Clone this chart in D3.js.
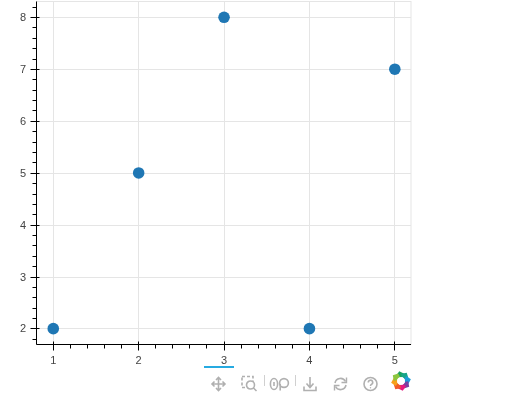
<!DOCTYPE html>
<html>
<head>
<meta charset="utf-8">
<script src="https://cdn.jsdelivr.net/npm/d3@7"></script>
<style>
  html, body { margin: 0; padding: 0; background: #fff; }
  svg { will-change: transform; }
  text { font-family: "Liberation Sans", Arial, sans-serif; font-size: 11px; fill: #444; }
</style>
</head>
<body>
<div id="chart"></div>
<script>
var xValues = [1, 2, 3, 4, 5];
var yValues = [2, 5, 8, 2, 7];
var xTicks = [1, 2, 3, 4, 5];
var yTicks = [2, 3, 4, 5, 6, 7, 8];
var xDomain = [0.807, 5.193];
var yDomain = [1.70, 8.31];
var logoColors = ["#1aa260", "#17a589", "#1b9cd8", "#7b3fa0", "#e6197f", "#f15a29", "#f7a11a", "#8cc63f"];

var width = 511, height = 401,
    left = 36.5, right = 411, top_ = 1.5, bottom = 344.5;

var svg = d3.select("#chart").append("svg")
    .attr("width", width)
    .attr("height", height)
    .style("display", "block");

var x = d3.scaleLinear().domain(xDomain).range([left + 0.3, right + 0.3]);
var y = d3.scaleLinear().domain(yDomain).range([bottom, top_]);

// snap to the pixel grid so 1px lines stay crisp
function snapX(d) { return Math.floor(x(d)) + 0.5; }
function snapY(d) { return Math.floor(y(d)) + 0.5; }

// minor ticks, 5 to an interval, only where they fall inside the range
function minorTicks(scale, step) {
    var d = scale.domain(), out = [];
    var start = Math.ceil(d3.min(d) / step);
    var stop = Math.floor(d3.max(d) / step);
    for (var i = start; i <= stop; i++) {
        if (i % 5 !== 0) out.push(i * step);
    }
    return out;
}

// border
svg.append("rect")
    .attr("x", left).attr("y", top_)
    .attr("width", right - left).attr("height", bottom - top_)
    .attr("fill", "none").attr("stroke", "#e5e5e5");

// grid
svg.append("g").selectAll("line").data(xTicks).enter().append("line")
    .attr("x1", snapX).attr("x2", snapX)
    .attr("y1", top_).attr("y2", bottom)
    .attr("stroke", "#e5e5e5");
svg.append("g").selectAll("line").data(yTicks).enter().append("line")
    .attr("y1", snapY).attr("y2", snapY)
    .attr("x1", left).attr("x2", right)
    .attr("stroke", "#e5e5e5");

// axes
var xAxis = svg.append("g").attr("stroke", "#000");
xAxis.append("line").attr("x1", left).attr("x2", right).attr("y1", bottom).attr("y2", bottom);
xAxis.selectAll(".major").data(xTicks).enter().append("line").attr("class", "major")
    .attr("x1", snapX).attr("x2", snapX)
    .attr("y1", bottom - 3).attr("y2", bottom + 6);
xAxis.selectAll(".minor").data(minorTicks(x, 0.2)).enter().append("line").attr("class", "minor")
    .attr("x1", snapX).attr("x2", snapX)
    .attr("y1", bottom).attr("y2", bottom + 4);

var yAxis = svg.append("g").attr("stroke", "#000");
yAxis.append("line").attr("x1", left).attr("x2", left).attr("y1", top_).attr("y2", bottom);
yAxis.selectAll(".major").data(yTicks).enter().append("line").attr("class", "major")
    .attr("y1", snapY).attr("y2", snapY)
    .attr("x1", left - 6).attr("x2", left + 3);
yAxis.selectAll(".minor").data(minorTicks(y, 0.2)).enter().append("line").attr("class", "minor")
    .attr("y1", snapY).attr("y2", snapY)
    .attr("x1", left - 4).attr("x2", left);

svg.append("g").selectAll("text").data(xTicks).enter().append("text")
    .attr("x", function(d){ return x(d); })
    .attr("y", 364)
    .attr("text-anchor", "middle")
    .text(function(d){ return d; });
svg.append("g").selectAll("text").data(yTicks).enter().append("text")
    .attr("x", 26)
    .attr("y", function(d){ return y(d) + 3.5; })
    .attr("text-anchor", "end")
    .text(function(d){ return d; });

// points
svg.append("g").selectAll("circle").data(xValues).enter().append("circle")
    .attr("cx", function(d){ return x(d); })
    .attr("cy", function(d, i){ return y(yValues[i]) - 0.3; })
    .attr("r", 5.8)
    .attr("fill", "#1f77b4");

// toolbar
var tb = svg.append("g").attr("fill", "none").attr("stroke", "#b0b0b0").attr("stroke-width", 1.6);
tb.append("rect").attr("x", 204).attr("y", 366).attr("width", 30).attr("height", 2)
    .attr("fill", "#26aae1").attr("stroke", "none");

// pan
var pan = tb.append("g").attr("transform", "translate(218.5,384)");
pan.append("path").attr("d", "M-6,0H6M0,-6V6M-2.5,-4L0,-6.5L2.5,-4M-2.5,4L0,6.5L2.5,4M-4,-2.5L-6.5,0L-4,2.5M4,-2.5L6.5,0L4,2.5");

// box zoom
var box = tb.append("g").attr("transform", "translate(247.5,382)");
box.append("rect").attr("x", -5.5).attr("y", -5.5).attr("width", 11).attr("height", 11).attr("stroke-dasharray", "3 2");
box.append("circle").attr("cx", 3).attr("cy", 3).attr("r", 4).attr("fill", "#fff");
box.append("path").attr("d", "M6,6L9,9");

// wheel zoom
var wheel = tb.append("g").attr("transform", "translate(279,384)");
wheel.append("ellipse").attr("cx", -5).attr("cy", 0).attr("rx", 3.6).attr("ry", 5.5);
wheel.append("path").attr("d", "M-5,-2V2");
wheel.append("circle").attr("cx", 5).attr("cy", -1).attr("r", 4.4);
wheel.append("path").attr("d", "M1.2,0V6.5");

// separators
tb.append("path").attr("stroke", "#d0d0d0").attr("stroke-width", 1).attr("d", "M264.5,375V386M295.5,375V386");

// save
var save = tb.append("g").attr("transform", "translate(310,384)");
save.append("path").attr("d", "M0,-7V3M-3.5,-0.5L0,3.5L3.5,-0.5M-6,2.5V6.5H6V2.5");

// reset
var reset = tb.append("g").attr("transform", "translate(340.5,384)");
reset.append("path").attr("d", "M-5.5,-1A5.6,5.6 0 0 1 5,-2.5M5.5,1A5.6,5.6 0 0 1 -5,2.5");
reset.append("path").attr("d", "M6,-6.5V-1.5H1M-6,6.5V1.5H-1").attr("stroke-width", 1.4);

// help
var help = tb.append("g").attr("transform", "translate(370.5,384)");
help.append("circle").attr("r", 6.5);
help.append("path").attr("d", "M-2.2,-1.6A2.2,2.2 0 1 1 0.8,0.4C0,0.8 0,1.2 0,2");
help.append("circle").attr("cy", 3.8).attr("r", 0.7).attr("fill", "#b0b0b0").attr("stroke", "none");

// logo
var logo = svg.append("g").attr("transform", "translate(401,381)");
logo.selectAll("path").data(logoColors).enter().append("path")
    .attr("transform", function(d, i){ return "rotate(" + (i * 45 - 10) + ")"; })
    .attr("d", "M-4,-6L0,-10L4.5,-6.5L3,-3.5L-2,-4Z")
    .attr("fill", function(d){ return d; });
logo.append("circle").attr("r", 3.8).attr("fill", "#fff");
</script>
</body>
</html>
